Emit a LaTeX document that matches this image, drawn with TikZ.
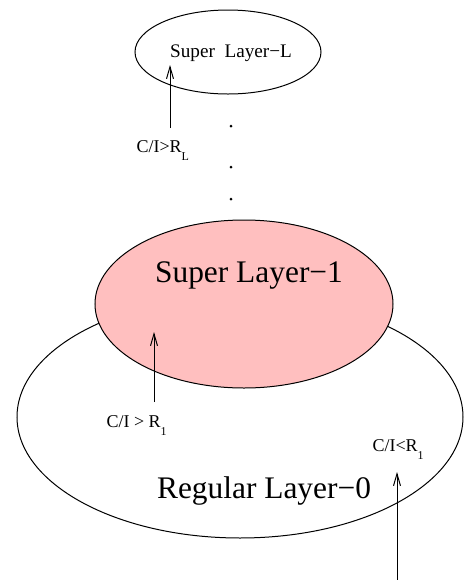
\documentclass[tikz,border=0pt]{standalone}
\usepackage{fontspec}
\setmainfont{Liberation Serif}
\usetikzlibrary{arrows.meta}
\definecolor{rosa}{HTML}{FFBFBF}
\newcommand\lowsub[1]{\raisebox{-1ex}{\fontsize{6}{7}\selectfont #1}}

\begin{document}
\begin{tikzpicture}[x=0.5pt, y=-0.5pt, line width=0.5pt, >={Straight Barb[length=6pt,width=3.5pt]}]
  \tikzset{
    bigname/.style={anchor=base, font=\fontsize{15.7}{18}\selectfont},
    smallname/.style={anchor=base, font=\fontsize{9.6}{11}\selectfont},
    cond/.style={anchor=base west, inner sep=0pt, font=\fontsize{9}{11}\selectfont}
  }
  \useasboundingbox (0,0) rectangle (464,580);
  % the layers
  \draw (240,417) ellipse [x radius=223, y radius=121];
  \draw[fill=rosa] (244,304) ellipse [x radius=149, y radius=84];
  \draw (228,52) ellipse [x radius=93, y radius=42];
  \node[smallname] (layerL) at (231,57) {Super\ \ Layer−L};
  \node[bigname] (layer1) at (249,282) {Super Layer−1};
  \node[bigname] (layer0) at (264,498) {Regular Layer−0};
  % dots between the layers
  \foreach \y in {126,167,199}
    \fill (231,\y) circle (1.5);
  % thresholds
  \node[cond] (condL) at (136,152) {C/I>R\lowsub{L}};
  \node[cond] (cond1) at (106,427) {C/I > R\lowsub{1}};
  \node[cond] (cond0) at (372,451) {C/I<R\lowsub{1}};
  \coordinate (tailL) at (170,128);
  \coordinate (tipL) at (170,65);
  \coordinate (tail1) at (154,402);
  \coordinate (tip1) at (154,332);
  \coordinate (tail0) at (397,580);
  \coordinate (tip0) at (397,472);
  \draw[->] (tailL) -- (tipL);
  \draw[->] (tail1) -- (tip1);
  \draw[->] (tail0) -- (tip0);
\end{tikzpicture}
\end{document}
